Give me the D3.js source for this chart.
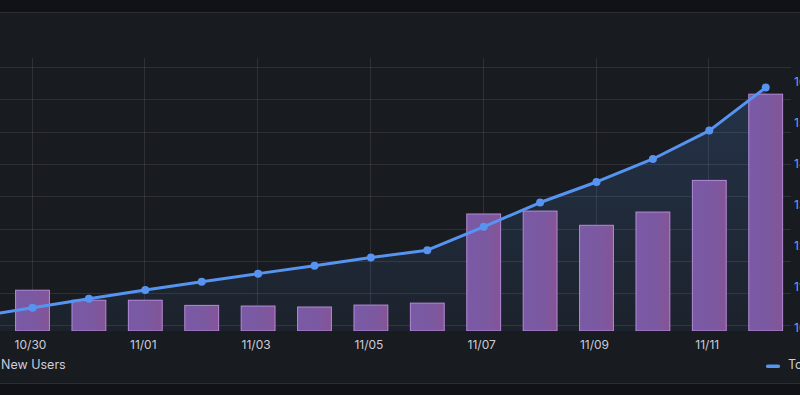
<!DOCTYPE html>
<html>
<head>
<meta charset="utf-8">
<script src="https://cdn.jsdelivr.net/npm/d3@7"></script>
<style>
  html, body { margin: 0; padding: 0; background: #111217; overflow: hidden; }
  text { font-family: Inter, "Noto Sans", sans-serif; }
</style>
</head>
<body>
<script>
// data
const days = ["2023-10-29", "2023-10-30", "2023-10-31", "2023-11-01", "2023-11-02", "2023-11-03",
  "2023-11-04", "2023-11-05", "2023-11-06", "2023-11-07", "2023-11-08", "2023-11-09",
  "2023-11-10", "2023-11-11", "2023-11-12"];
const newUsers = [20, 20.9, 17.8, 17.8, 16.2, 16.0, 15.7, 16.3, 16.9, 44.5, 45.4, 41.0, 45.1, 54.9, 81.6];
const totalUsers = [1028, 1050, 1072, 1093, 1113, 1133, 1152, 1172, 1190, 1247, 1306, 1356, 1412, 1481, 1586];
const leftTicks = [10, 20, 30, 40, 50, 60, 70, 80, 90];
const rightTicks = [1000, 1100, 1200, 1300, 1400, 1500, 1600];
const seriesNames = ["New Users", "Total Users"];

const width = 800;
const height = 395;
const svg = d3.select("body").append("svg");
svg.attr("width", width);
svg.attr("height", height);

const parse = d3.utcParse("%Y-%m-%d");
const dates = days.map(parse);
const data = dates.map((d, i) => ({ date: d, nu: newUsers[i], tu: totalUsers[i] }));

const plotTop = 58, plotBottom = 331;
const x = d3.scaleUtc()
  .domain([parse("2023-10-30"), parse("2023-11-12")])
  .range([32.5, 765.7]);
const yL = d3.scaleLinear().domain([8.27, 92.8]).range([plotBottom, plotTop]);
const yR = d3.scaleLinear().domain([993.4, 1657.7]).range([plotBottom, plotTop]);
const dayW = x(parse("2023-10-31")) - x(parse("2023-10-30"));
const barW = dayW * 0.6;

// panel background
svg.append("rect").attr("width", width).attr("height", height).attr("fill", "#111217");
svg.append("rect").attr("y", 12).attr("width", width).attr("height", 371).attr("fill", "#181b1f");
svg.append("line").attr("x1", 0).attr("x2", width).attr("y1", 12.5).attr("y2", 12.5)
  .attr("stroke", "#2b2e34");
svg.append("line").attr("x1", 0).attr("x2", width).attr("y1", 383.5).attr("y2", 383.5)
  .attr("stroke", "#2b2e34");

const defs = svg.append("defs");
defs.append("clipPath").attr("id", "plot-clip")
  .append("rect").attr("x", 0).attr("y", plotTop - 10).attr("width", 791).attr("height", plotBottom - plotTop + 10);

const areaGrad = defs.append("linearGradient").attr("id", "area-grad")
  .attr("gradientUnits", "userSpaceOnUse")
  .attr("x1", 0).attr("x2", 0).attr("y1", yR(1586)).attr("y2", plotBottom);
areaGrad.append("stop").attr("offset", 0).attr("stop-color", "#5794f2").attr("stop-opacity", 0.2);
areaGrad.append("stop").attr("offset", 1).attr("stop-color", "#5794f2").attr("stop-opacity", 0.06);

const barGrad = defs.append("linearGradient").attr("id", "bar-grad")
  .attr("x1", 0).attr("x2", 1).attr("y1", 0).attr("y2", 0);
barGrad.append("stop").attr("offset", 0).attr("stop-color", "#7a5aa6");
barGrad.append("stop").attr("offset", 0.6).attr("stop-color", "#7b59a1");
barGrad.append("stop").attr("offset", 1).attr("stop-color", "#855495");

// grid
const grid = svg.append("g").attr("stroke", "#ccccdc").attr("stroke-opacity", 0.12);
grid.selectAll("line.h")
  .data(leftTicks)
  .join("line")
  .attr("class", "h")
  .attr("x1", 0).attr("x2", 791)
  .attr("y1", (d) => Math.round(yL(d)) + 0.5)
  .attr("y2", (d) => Math.round(yL(d)) + 0.5);

const xTicks = d3.utcDay.range(parse("2023-10-30"), parse("2023-11-12"), 2);
grid.selectAll("line.v")
  .data(xTicks)
  .join("line")
  .attr("class", "v")
  .attr("x1", (d) => Math.round(x(d)) - 0.5)
  .attr("x2", (d) => Math.round(x(d)) - 0.5)
  .attr("y1", plotTop).attr("y2", plotBottom);

const plot = svg.append("g").attr("clip-path", "url(#plot-clip)");

// total users area (under the bars)
const area = d3.area()
  .x((d) => x(d.date))
  .y0(plotBottom)
  .y1((d) => yR(d.tu));
plot.append("path").datum(data).attr("d", area).attr("fill", "url(#area-grad)");

// new users bars
plot.selectAll("rect.bar")
  .data(data)
  .join("rect")
  .attr("class", "bar")
  .attr("x", (d) => x(d.date) - barW / 2)
  .attr("y", (d) => yL(d.nu))
  .attr("width", barW)
  .attr("height", (d) => plotBottom - yL(d.nu))
  .attr("fill", "url(#bar-grad)")
  .attr("stroke", "#b48ad8")
  .attr("stroke-width", 1);

// total users line + points
const line = d3.line().x((d) => x(d.date)).y((d) => yR(d.tu));
plot.append("path").datum(data).attr("d", line)
  .attr("fill", "none").attr("stroke", "#5794f2").attr("stroke-width", 3)
  .attr("stroke-linejoin", "round");
plot.selectAll("circle")
  .data(data)
  .join("circle")
  .attr("cx", (d) => x(d.date))
  .attr("cy", (d) => yR(d.tu))
  .attr("r", 4)
  .attr("fill", "#5794f2");

// x axis labels
const fmt = d3.utcFormat("%m/%d");
svg.selectAll("text.xl")
  .data(xTicks)
  .join("text")
  .attr("class", "xl")
  .attr("x", (d) => x(d) - 2)
  .attr("y", 349)
  .attr("text-anchor", "middle")
  .attr("font-size", 12)
  .attr("fill", "#ccccdc")
  .text((d) => fmt(d));

// right axis labels (clipped by the window edge, as in the reference)
svg.selectAll("text.yr")
  .data(rightTicks)
  .join("text")
  .attr("class", "yr")
  .attr("x", 794)
  .attr("y", (d) => yR(d) + 4)
  .attr("font-size", 12)
  .attr("fill", "#6e9fff")
  .text((d) => d);

// legend
svg.append("text").attr("x", 1).attr("y", 369).attr("font-size", 12.5)
  .attr("fill", "#ccccdc").text(seriesNames[0]);
svg.append("rect").attr("x", 766).attr("y", 364.5).attr("width", 14).attr("height", 3.5)
  .attr("rx", 1.5).attr("fill", "#5794f2");
svg.append("text").attr("x", 788).attr("y", 369).attr("font-size", 12.5)
  .attr("fill", "#ccccdc").text(seriesNames[1]);
</script>
</body>
</html>
